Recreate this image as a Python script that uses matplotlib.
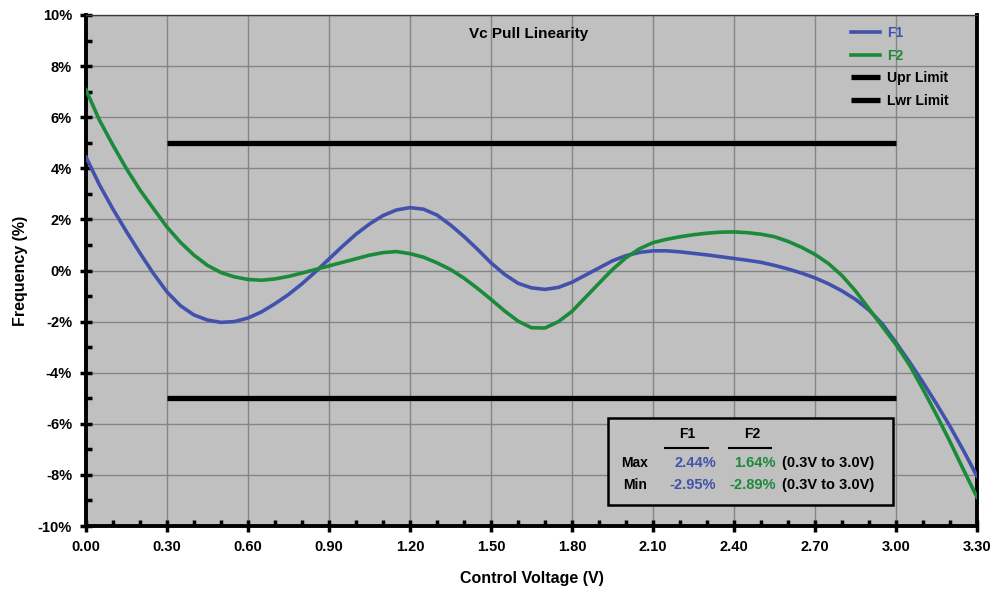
import matplotlib
matplotlib.use("Agg")
import matplotlib.pyplot as plt
from matplotlib.ticker import MultipleLocator, FuncFormatter

plt.rcParams["font.family"] = ["Liberation Sans", "DejaVu Sans"]
plt.rcParams["font.weight"] = "bold"

# values (% deviation vs control voltage)
voltage = [0.00, 0.05, 0.10, 0.15, 0.20, 0.25, 0.30, 0.35, 0.40, 0.45, 0.50, 0.55,
           0.60, 0.65, 0.70, 0.75, 0.80, 0.85, 0.90, 0.95, 1.00, 1.05, 1.10, 1.15,
           1.20, 1.25, 1.30, 1.35, 1.40, 1.45, 1.50, 1.55, 1.60, 1.65, 1.70, 1.75,
           1.80, 1.85, 1.90, 1.95, 2.00, 2.05, 2.10, 2.15, 2.20, 2.25, 2.30, 2.35,
           2.40, 2.45, 2.50, 2.55, 2.60, 2.65, 2.70, 2.75, 2.80, 2.85, 2.90, 2.95,
           3.00, 3.05, 3.10, 3.15, 3.20, 3.25, 3.30]
f1 = [4.44, 3.35, 2.40, 1.52, 0.68, -0.12, -0.84, -1.38, -1.74, -1.94, -2.03, -2.00,
      -1.86, -1.62, -1.30, -0.94, -0.52, -0.05, 0.45, 0.95, 1.42, 1.82, 2.15, 2.37,
      2.46, 2.40, 2.17, 1.78, 1.33, 0.83, 0.30, -0.15, -0.50, -0.68, -0.74, -0.66,
      -0.46, -0.18, 0.10, 0.38, 0.58, 0.71, 0.77, 0.77, 0.73, 0.67, 0.61, 0.54,
      0.47, 0.40, 0.32, 0.20, 0.06, -0.10, -0.29, -0.52, -0.80, -1.13, -1.55, -2.10,
      -2.82, -3.58, -4.38, -5.22, -6.10, -7.05, -8.05]
f2 = [7.07, 5.88, 4.90, 3.98, 3.15, 2.42, 1.70, 1.10, 0.60, 0.20, -0.08, -0.25,
      -0.35, -0.38, -0.33, -0.23, -0.10, 0.04, 0.18, 0.32, 0.46, 0.60, 0.70, 0.74,
      0.66, 0.52, 0.30, 0.04, -0.30, -0.70, -1.13, -1.58, -1.98, -2.24, -2.25, -2.00,
      -1.60, -1.05, -0.50, 0.04, 0.50, 0.85, 1.09, 1.22, 1.32, 1.40, 1.46, 1.50,
      1.51, 1.48, 1.42, 1.32, 1.14, 0.91, 0.63, 0.27, -0.20, -0.80, -1.50, -2.20,
      -2.90, -3.70, -4.65, -5.65, -6.70, -7.80, -8.87]
limit_x = [0.30, 3.00]
upr_limit = [5, 5]
lwr_limit = [-5, -5]

stat_rows = ["Max", "Min"]
f1_stats = ["2.44%", "-2.95%"]
f2_stats = ["1.64%", "-2.89%"]
stat_range = ["(0.3V to 3.0V)", "(0.3V to 3.0V)"]

BLUE = "#4152ad"
GREEN = "#1b8a3a"

fig = plt.figure(figsize=(9.96, 5.92), dpi=100)
ax = fig.add_axes([86 / 996, 1 - 526 / 592, 891 / 996, 511 / 592])
ax.set_facecolor("#c0c0c0")

ax.plot(voltage, f1, color=BLUE, lw=2.6, label="F1", zorder=4)
ax.plot(voltage, f2, color=GREEN, lw=2.6, label="F2", zorder=4)
ax.plot(limit_x, upr_limit, color="black", lw=3.8, label="Upr Limit", zorder=3,
        solid_capstyle="butt")
ax.plot(limit_x, lwr_limit, color="black", lw=3.8, label="Lwr Limit", zorder=3,
        solid_capstyle="butt")

ax.set_xlim(0, 3.3)
ax.set_ylim(-10, 10)
ax.xaxis.set_major_locator(MultipleLocator(0.3))
ax.xaxis.set_minor_locator(MultipleLocator(0.1))
ax.yaxis.set_major_locator(MultipleLocator(2))
ax.yaxis.set_minor_locator(MultipleLocator(1))
ax.xaxis.set_major_formatter(FuncFormatter(lambda v, p: f"{v:.2f}"))
ax.yaxis.set_major_formatter(FuncFormatter(lambda v, p: f"{v:.0f}%"))
ax.tick_params(which="major", direction="inout", length=8, width=2.5,
               labelsize=10.5, pad=6)
ax.tick_params(which="minor", direction="in", length=4, width=2.5)
ax.grid(which="major", color="#858585", lw=1)
ax.set_axisbelow(True)

for side in ("left", "bottom", "right"):
    ax.spines[side].set_linewidth(2.8)
    ax.spines[side].set_color("black")
ax.spines["top"].set_linewidth(1)
ax.spines["top"].set_color("#3a3a3a")

ax.set_xlabel("Control Voltage (V)", fontsize=11.5, fontweight="bold", labelpad=12)
ax.set_ylabel("Frequency (%)", fontsize=11.5, fontweight="bold", labelpad=7)
ax.text(0.497, 0.962, "Vc Pull Linearity", transform=ax.transAxes, ha="center",
        va="center", fontsize=11, fontweight="bold")

leg = ax.legend(loc="upper right", bbox_to_anchor=(0.981, 1.0), frameon=False,
                fontsize=10, handlelength=2.1, handletextpad=0.5,
                labelspacing=0.62, borderaxespad=0.4)
for txt, col in zip(leg.get_texts(), [BLUE, GREEN, "black", "black"]):
    txt.set_color(col)
    txt.set_fontweight("bold")


def ax_xy(px, py):
    return (px - 86) / 891, (526 - py) / 511


# statistics box
x0, y0 = ax_xy(608, 505)
x1, y1 = ax_xy(893, 418)
box = plt.Rectangle((x0, y0), x1 - x0, y1 - y0, transform=ax.transAxes,
                    facecolor="#c0c0c0", edgecolor="black", lw=1.8, zorder=5)
ax.add_patch(box)
for label, cx, ux0, ux1 in (("F1", 687, 665, 708), ("F2", 752, 729, 771)):
    hx, hy = ax_xy(cx, 434)
    ax.text(hx, hy, label, transform=ax.transAxes, ha="center", va="center",
            fontsize=10, fontweight="bold", zorder=6)
    a, b = ax_xy(ux0, 448)
    c, _ = ax_xy(ux1, 448)
    ax.plot([a, c], [b, b], transform=ax.transAxes, color="black", lw=1.5,
            zorder=6)
for i, row in enumerate(stat_rows):
    py = 463 + i * 22
    sx, sy = ax_xy(635, py)
    ax.text(sx, sy, row, transform=ax.transAxes, ha="center", va="center",
            fontsize=10, fontweight="bold", zorder=6)
    sx, _ = ax_xy(716, py)
    ax.text(sx, sy, f1_stats[i], transform=ax.transAxes, ha="right",
            va="center", fontsize=10.5, color=BLUE, zorder=6)
    sx, _ = ax_xy(776, py)
    ax.text(sx, sy, f2_stats[i], transform=ax.transAxes, ha="right",
            va="center", fontsize=10.5, color=GREEN, zorder=6)
    sx, _ = ax_xy(782, py)
    ax.text(sx, sy, stat_range[i], transform=ax.transAxes, ha="left",
            va="center", fontsize=10.5, fontweight="bold", zorder=6)

fig.savefig("out.png", dpi=100)
